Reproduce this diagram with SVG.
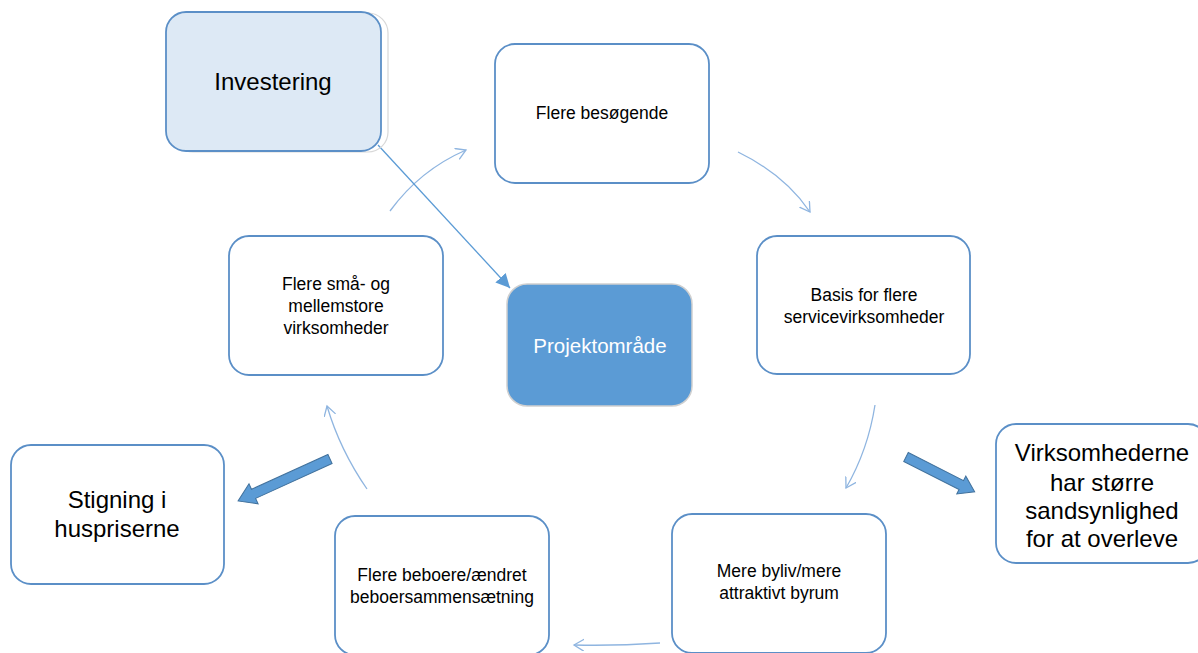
<svg xmlns="http://www.w3.org/2000/svg" width="1198" height="653" viewBox="0 0 1198 653">
<defs>
<style>
.box{fill:#fff;stroke:#5b8fc7;stroke-width:1.8}
.t{font-family:"Liberation Sans",Arial,sans-serif;fill:#000;text-anchor:middle}
.s{font-size:17.5px}
.l{font-size:24px}
.con{fill:none;stroke:#8fb5e0;stroke-width:1.3}
.blk{fill:#5b9bd5;stroke:#41719c;stroke-width:1}
</style>
<marker id="open" markerWidth="14" markerHeight="14" refX="10" refY="6" orient="auto" markerUnits="userSpaceOnUse">
<path d="M0,0 L10,6 L0,12" fill="none" stroke="#8fb5e0" stroke-width="1.3"/>
</marker>
<marker id="fill" markerWidth="16" markerHeight="14" refX="14" refY="7" orient="auto" markerUnits="userSpaceOnUse">
<path d="M0,0 L14,7 L0,14 Z" fill="#5b9bd5"/>
</marker>
</defs>
<rect width="1198" height="653" fill="#fff"/>

<g id="connectors">
<path class="con" d="M390,211 Q420,170 466,150" marker-end="url(#open)"/>
<path class="con" d="M738,152 Q785,175 810,212" marker-end="url(#open)"/>
<path class="con" d="M875,405 Q868,450 846,488" marker-end="url(#open)"/>
<path class="con" d="M660,643 Q615,646 574,645" marker-end="url(#open)"/>
<path class="con" d="M367,489 Q340,450 327,406" marker-end="url(#open)"/>
<path d="M378,145 L510,288" fill="none" stroke="#5b9bd5" stroke-width="1.3" marker-end="url(#fill)"/>
<polygon class="blk" transform="translate(906,457) rotate(26.9)" points="0,-5 62,-5 62,-10 77,0 62,10 62,5 0,5"/>
<polygon class="blk" transform="translate(330,459) rotate(155.5)" points="0,-5 84,-5 84,-11 101,0 84,11 84,5 0,5"/>
</g>

<g id="investering">
<rect x="173" y="13" width="215" height="139" rx="20" fill="none" stroke="#d8d8d8" stroke-width="1.2"/>
<rect x="166" y="12" width="215" height="139" rx="20" fill="#dde9f5" stroke="#5b8fc7" stroke-width="1.8"/>
<text class="t l" x="273" y="90">Investering</text>
</g>

<g id="flere-besoegende">
<rect class="box" x="495" y="44" width="214" height="139" rx="20"/>
<text class="t s" x="602" y="119">Flere besøgende</text>
</g>

<g id="basis">
<rect class="box" x="757" y="236" width="213" height="138" rx="20"/>
<text class="t s" x="864" y="301">Basis for flere</text>
<text class="t s" x="864" y="323">servicevirksomheder</text>
</g>

<g id="mere-byliv">
<rect class="box" x="672" y="514" width="214" height="139" rx="20"/>
<text class="t s" x="779" y="577">Mere byliv/mere</text>
<text class="t s" x="779" y="599">attraktivt byrum</text>
</g>

<g id="flere-beboere">
<rect class="box" x="335" y="516" width="214" height="139" rx="20"/>
<text class="t s" x="442" y="581">Flere beboere/ændret</text>
<text class="t s" x="442" y="603">beboersammensætning</text>
</g>

<g id="flere-smaa">
<rect class="box" x="229" y="236" width="214" height="139" rx="20"/>
<text class="t s" x="336" y="290">Flere små- og</text>
<text class="t s" x="336" y="312">mellemstore</text>
<text class="t s" x="336" y="334">virksomheder</text>
</g>

<g id="projektomraade">
<rect x="507" y="284" width="185" height="122" rx="20" fill="#5b9bd5" stroke="#d0d0d0" stroke-width="1.5"/>
<text class="t" x="600" y="353" style="font-size:20.5px;fill:#fff">Projektområde</text>
</g>

<g id="stigning">
<rect class="box" x="11" y="445" width="213" height="139" rx="20"/>
<text class="t l" x="117" y="508">Stigning i</text>
<text class="t l" x="117" y="537">huspriserne</text>
</g>

<g id="virksomhederne">
<rect class="box" x="996" y="424" width="212" height="139" rx="20"/>
<text class="t l" x="1102" y="461">Virksomhederne</text>
<text class="t l" x="1102" y="491">har større</text>
<text class="t l" x="1102" y="519">sandsynlighed</text>
<text class="t l" x="1102" y="547">for at overleve</text>
</g>
</svg>
